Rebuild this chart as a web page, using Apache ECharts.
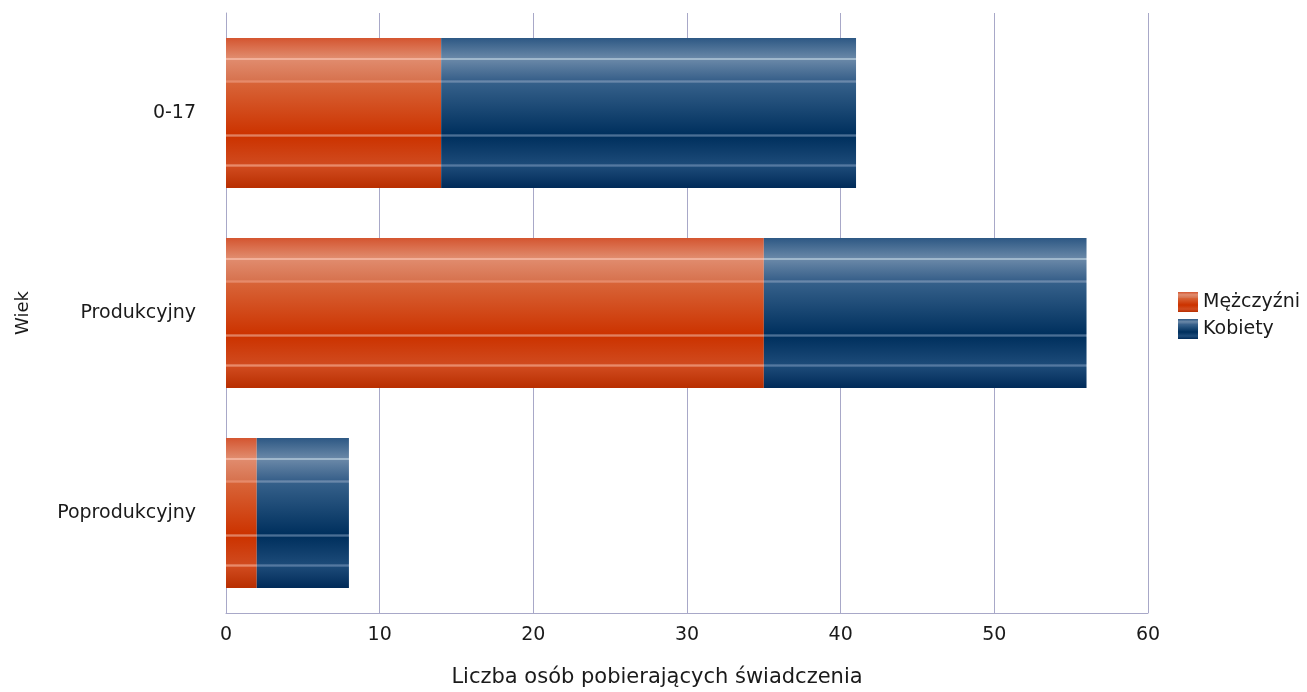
<!DOCTYPE html>
<html><head><meta charset="utf-8">
<script src="https://cdn.jsdelivr.net/npm/echarts@6/dist/echarts.min.js"></script>
<style>html,body{margin:0;padding:0;background:#fff}#c{width:1307px;height:692px}</style>
</head><body><div id="c"></div>
<script>
const categories = ['0-17', 'Produkcyjny', 'Poprodukcyjny'];
const men = [14, 35, 2];
const women = [27, 21, 6];
const seriesNames = ['Mężczyźni', 'Kobiety'];
const xTicks = [0, 10, 20, 30, 40, 50, 60];

function grad(c) {
  return new echarts.graphic.LinearGradient(0, 0, 0, 1, [
    {offset: 0, color: c[0]},
    {offset: 0.13, color: c[1]},
    {offset: 0.135, color: c[2]},
    {offset: 0.145, color: c[2]},
    {offset: 0.15, color: c[1]},
    {offset: 0.28, color: c[3]},
    {offset: 0.285, color: c[4]},
    {offset: 0.295, color: c[4]},
    {offset: 0.30, color: c[5]},
    {offset: 0.64, color: c[6]},
    {offset: 0.645, color: c[7]},
    {offset: 0.655, color: c[7]},
    {offset: 0.66, color: c[6]},
    {offset: 0.84, color: c[8]},
    {offset: 0.845, color: c[9]},
    {offset: 0.855, color: c[9]},
    {offset: 0.86, color: c[8]},
    {offset: 1, color: c[10]}
  ]);
}
const redC = ['#d45530', '#e08a6c', '#f2b09a', '#d7734f', '#e68a6a', '#d86438', '#cc3300', '#e08060', '#d04a1e', '#e88a6a', '#b82e00'];
const blueC = ['#2d5884', '#6786a6', '#a0b8cc', '#38608a', '#6a88aa', '#35608a', '#00305e', '#4a6e94', '#1c4a78', '#5478a0', '#002a58'];

const chart = echarts.init(document.getElementById('c'));
chart.setOption({
  animation: false,
  textStyle: {fontFamily: 'DejaVu Sans'},
  grid: {left: 226, right: 159, top: 13, bottom: 79, outerBoundsMode: 'none', containLabel: false},
  legend: {
    orient: 'vertical', left: 1173, top: 287,
    itemWidth: 20, itemHeight: 20, itemGap: 7,
    icon: 'rect',
    textStyle: {fontSize: 19, color: '#1a1a1a', fontFamily: 'DejaVu Sans'},
    data: seriesNames
  },
  xAxis: {
    type: 'value', min: xTicks[0], max: xTicks[xTicks.length - 1], interval: 10,
    name: 'Liczba osób pobierających świadczenia', nameLocation: 'middle', nameGap: 54,
    nameTextStyle: {fontSize: 21, color: '#1a1a1a', padding: [0, 60, 0, 0]},
    axisLine: {show: true, lineStyle: {color: '#a8a8c8', width: 1}},
    axisTick: {show: false},
    axisLabel: {fontSize: 19, color: '#1a1a1a', margin: 13},
    splitLine: {show: true, lineStyle: {color: '#a8a8c8', width: 1}}
  },
  yAxis: {
    type: 'category', data: categories, inverse: true,
    name: 'Wiek', nameLocation: 'middle', nameGap: 194,
    nameTextStyle: {fontSize: 18, color: '#1a1a1a'},
    axisLine: {show: true, lineStyle: {color: '#a8a8c8', width: 1}},
    axisTick: {show: false},
    axisLabel: {fontSize: 19, color: '#1a1a1a', margin: 30}
  },
  series: [
    {name: seriesNames[0], type: 'bar', stack: 's', data: men, barWidth: '75%',
     itemStyle: {color: grad(redC)}},
    {name: seriesNames[1], type: 'bar', stack: 's', data: women, barWidth: '75%',
     itemStyle: {color: grad(blueC)}}
  ]
});
</script></body></html>
